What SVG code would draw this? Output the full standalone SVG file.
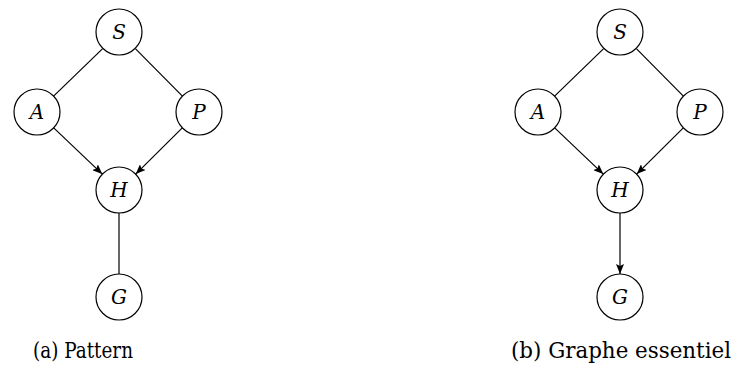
<svg xmlns="http://www.w3.org/2000/svg" width="750" height="381" viewBox="0 0 750 381">
<style>
.n circle{fill:#fff;stroke:#000;stroke-width:1.2}
.n text{font-family:"DejaVu Serif","Liberation Serif",serif;font-style:italic;font-size:20px;text-anchor:middle;dominant-baseline:central}
.e line{stroke:#000;stroke-width:1.2}
.cap{font-family:"DejaVu Serif","Liberation Serif",serif;font-size:23px;text-anchor:middle}
</style>
<defs>
<marker id="ah" viewBox="0 0 10 8" refX="10" refY="4" markerWidth="10" markerHeight="8" markerUnits="userSpaceOnUse" orient="auto">
<path d="M0,0 L10,4 L0,8 L2,4 Z" fill="#000"/>
</marker>
</defs>
<g class="e" id="connectors">
<line x1="102.4" y1="48.9" x2="53.6" y2="96.1"/>
<line x1="135.6" y1="48.9" x2="182.4" y2="96.1"/>
<line x1="53.7" y1="127.9" x2="102.3" y2="174.1" marker-end="url(#ah)"/>
<line x1="182.3" y1="127.9" x2="135.7" y2="174.1" marker-end="url(#ah)"/>
<line x1="119" y1="213" x2="119" y2="274"/>
<line x1="603.4" y1="48.9" x2="554.6" y2="96.1"/>
<line x1="636.6" y1="48.9" x2="683.4" y2="96.1"/>
<line x1="554.7" y1="127.9" x2="603.3" y2="174.1" marker-end="url(#ah)"/>
<line x1="683.3" y1="127.9" x2="636.7" y2="174.1" marker-end="url(#ah)"/>
<line x1="620" y1="213" x2="620" y2="274" marker-end="url(#ah)"/>
</g>
<g class="n" id="aS"><circle cx="119" cy="32" r="23"/><text x="119" y="32">S</text></g>
<g class="n" id="aA"><circle cx="37" cy="112" r="23"/><text x="37" y="112">A</text></g>
<g class="n" id="aP"><circle cx="199" cy="112" r="23"/><text x="199" y="112">P</text></g>
<g class="n" id="aH"><circle cx="119" cy="190" r="23"/><text x="119" y="190">H</text></g>
<g class="n" id="aG"><circle cx="119" cy="297" r="23"/><text x="119" y="297">G</text></g>
<g class="n" id="bS"><circle cx="620" cy="32" r="23"/><text x="620" y="32">S</text></g>
<g class="n" id="bA"><circle cx="538" cy="112" r="23"/><text x="538" y="112">A</text></g>
<g class="n" id="bP"><circle cx="700" cy="112" r="23"/><text x="700" y="112">P</text></g>
<g class="n" id="bH"><circle cx="620" cy="190" r="23"/><text x="620" y="190">H</text></g>
<g class="n" id="bG"><circle cx="620" cy="297" r="23"/><text x="620" y="297">G</text></g>
<text class="cap" x="83" y="358" textLength="100" lengthAdjust="spacingAndGlyphs">(a) Pattern</text>
<text class="cap" x="621" y="358" textLength="220" lengthAdjust="spacingAndGlyphs">(b) Graphe essentiel</text>
</svg>
